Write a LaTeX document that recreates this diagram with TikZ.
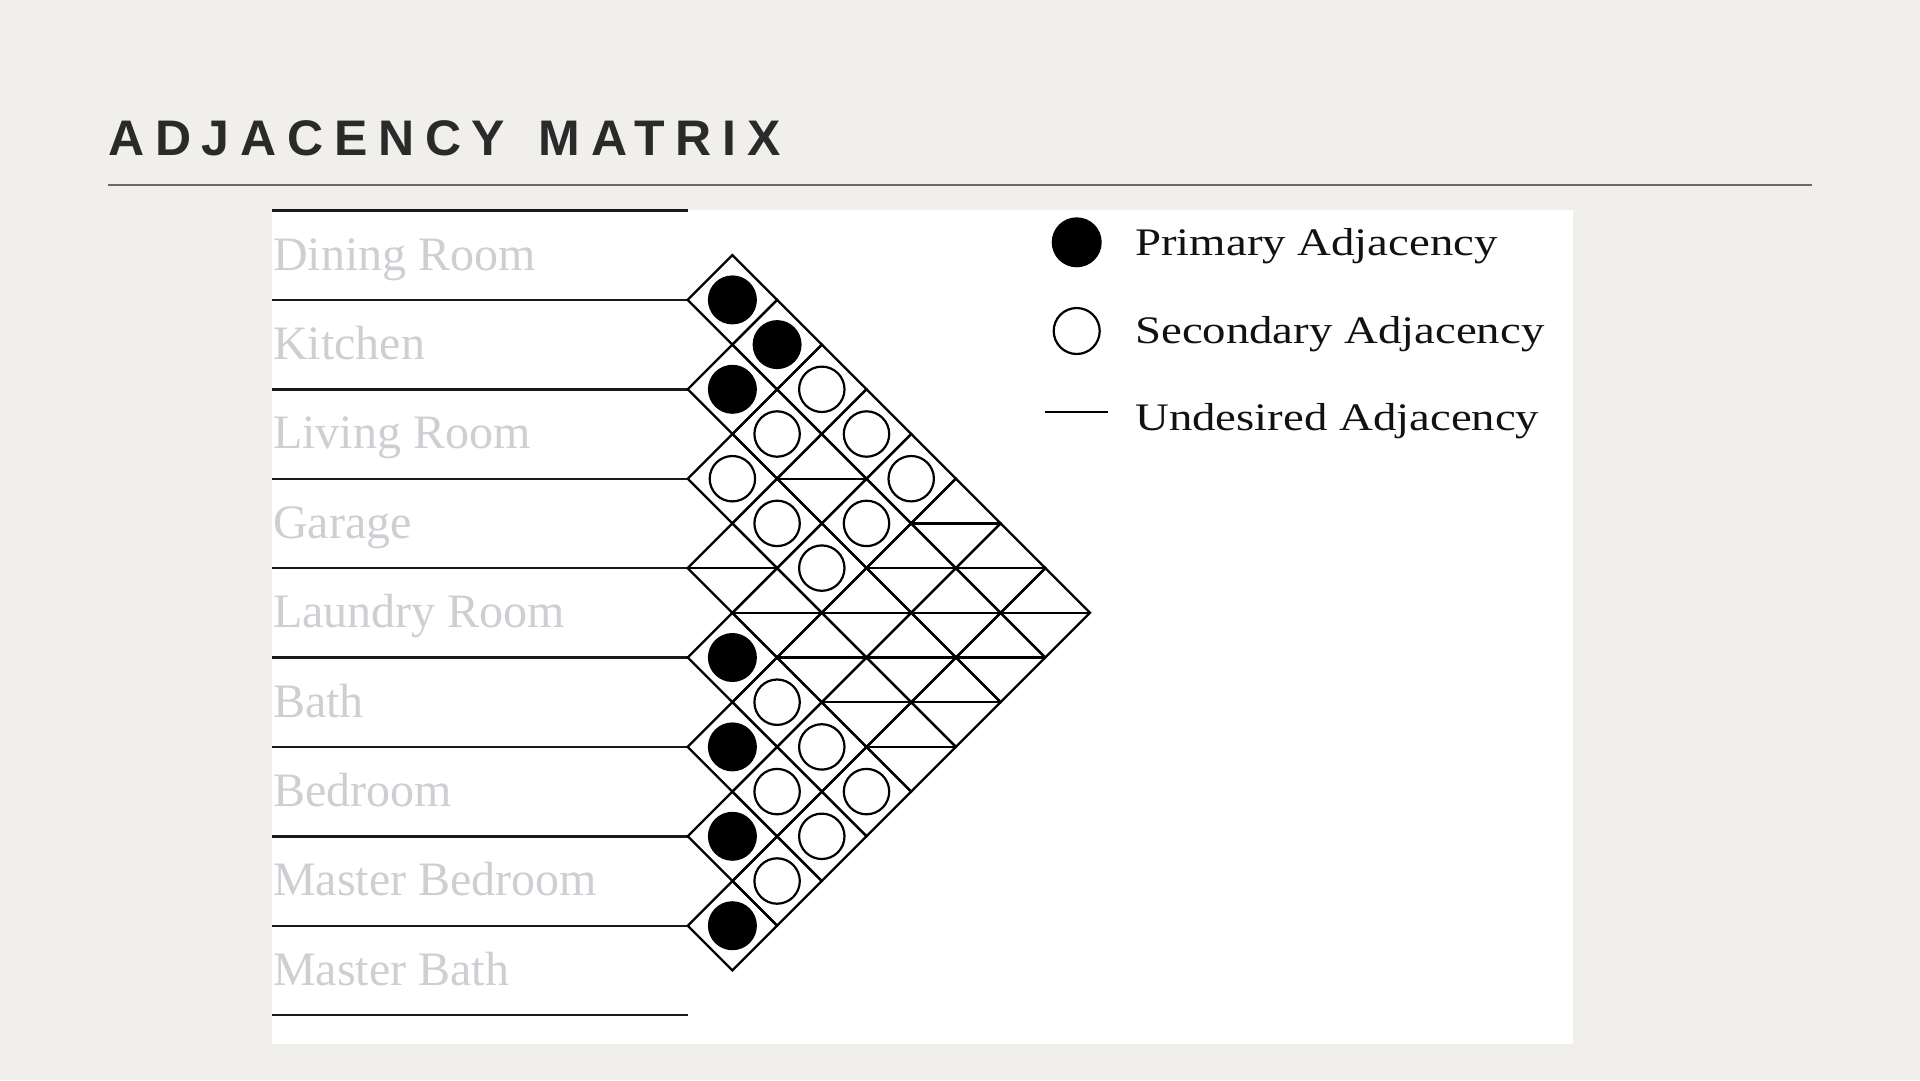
\documentclass[tikz,border=0pt]{standalone}
\usepackage{fontspec}
\usepackage{xcolor}
\setmainfont{Liberation Serif}
\newfontfamily\titlefamily[LetterSpace=21.5]{Liberation Sans}
\newfontfamily\legendfamily[FakeStretch=1.2]{Liberation Serif}

\definecolor{slidebg}{RGB}{240,239,235}
\definecolor{titlegray}{RGB}{42,42,42}
\definecolor{rulegray}{RGB}{105,105,105}
\definecolor{roomgray}{RGB}{205,207,211}

% matrix geometry (in px): left tip, top row line, half cell
\def\matx{687.7}
\def\maty{210.5}
\def\halfw{44.7}

\newcommand{\drawcell}[2]{%
  \pgfmathsetmacro\cellx{\matx+(#2-#1)*\halfw}%
  \pgfmathsetmacro\celly{\maty+\halfw+(#1+#2)*\halfw}%
  \draw[diamondcell] (\cellx-\halfw,\celly) -- (\cellx,\celly-\halfw) -- (\cellx+\halfw,\celly) -- (\cellx,\celly+\halfw) -- cycle;%
}

\tikzset{
  roomline/.style={black!90, line width=2.4pt},
  roomlabel/.style={anchor=base west, inner sep=0pt, text=roomgray, font=\fontsize{48}{56}\selectfont},
  diamondcell/.style={black, line width=2.3pt},
  primarydot/.style={fill=black},
  secondarydot/.style={draw=black, fill=white, line width=2.2pt},
  undesiredline/.style={black, line width=2.3pt},
  legendlabel/.style={anchor=base west, inner sep=0pt, text=black!93, font=\legendfamily\fontsize{39}{46}\selectfont},
}

\begin{document}
\begin{tikzpicture}[x=1pt, y=-1pt]
    \fill[slidebg] (0,0) rectangle (1920,1080);
    \useasboundingbox (0,0) rectangle (1920,1080);

    \node[anchor=base west, inner sep=0pt, text=titlegray, font=\titlefamily\bfseries\fontsize{50}{60}\selectfont] (title) at (108,155) {ADJACENCY\hspace{9pt} MATRIX};
    \draw[rulegray, line width=1.6pt] (108,185) -- (1812,185);

    \fill[white] (271.7,210) rectangle (1572.7,1044);

    % room rows
    \foreach \k in {0,...,9}
        \draw[roomline] (271.7,{\maty+2*\k*\halfw}) -- (\matx,{\maty+2*\k*\halfw});

    \node[roomlabel] (dining) at (273,270) {Dining Room};
    \node[roomlabel] (kitchen) at (273,359.4) {Kitchen};
    \node[roomlabel] (living) at (273,448.8) {Living Room};
    \node[roomlabel] (garage) at (273,538.2) {Garage};
    \node[roomlabel] (laundry) at (273,627.6) {Laundry Room};
    \node[roomlabel] (bath) at (273,717) {Bath};
    \node[roomlabel] (bedroom) at (273,806.4) {Bedroom};
    \node[roomlabel] (masterbed) at (273,895.8) {Master Bedroom};
    \node[roomlabel] (masterbath) at (273,985.2) {Master Bath};

    % primary
    \foreach \i/\j in {0/1,0/2,1/2,4/5,5/6,6/7,7/8} {
        \drawcell{\i}{\j}
        \fill[primarydot] (\cellx,\celly) circle (24.5pt);
    }
    % secondary
    \foreach \i/\j in {0/3,0/4,0/5,1/3,1/5,2/3,2/4,2/5,4/6,4/7,4/8,5/7,5/8,6/8} {
        \drawcell{\i}{\j}
        \draw[secondarydot] (\cellx,\celly) circle (22.7pt);
    }
    % undesired
    \foreach \i/\j in {0/6,0/7,0/8,1/4,1/6,1/7,1/8,2/6,2/7,2/8,3/4,3/5,3/6,3/7,3/8} {
        \drawcell{\i}{\j}
        \draw[undesiredline] (\cellx-\halfw,\celly) -- (\cellx+\halfw,\celly);
    }

    % legend
    \fill[primarydot] (1076.7,242.3) circle (25pt);
    \draw[secondarydot] (1076.7,331) circle (23pt);
    \draw[undesiredline] (1045,411.7) -- (1108.3,411.7);
    \node[legendlabel] (primarytext) at (1135,255.7) {Primary Adjacency};
    \node[legendlabel] (secondarytext) at (1135,343.3) {Secondary Adjacency};
    \node[legendlabel] (undesiredtext) at (1135,430) {Undesired Adjacency};
\end{tikzpicture}
\end{document}
